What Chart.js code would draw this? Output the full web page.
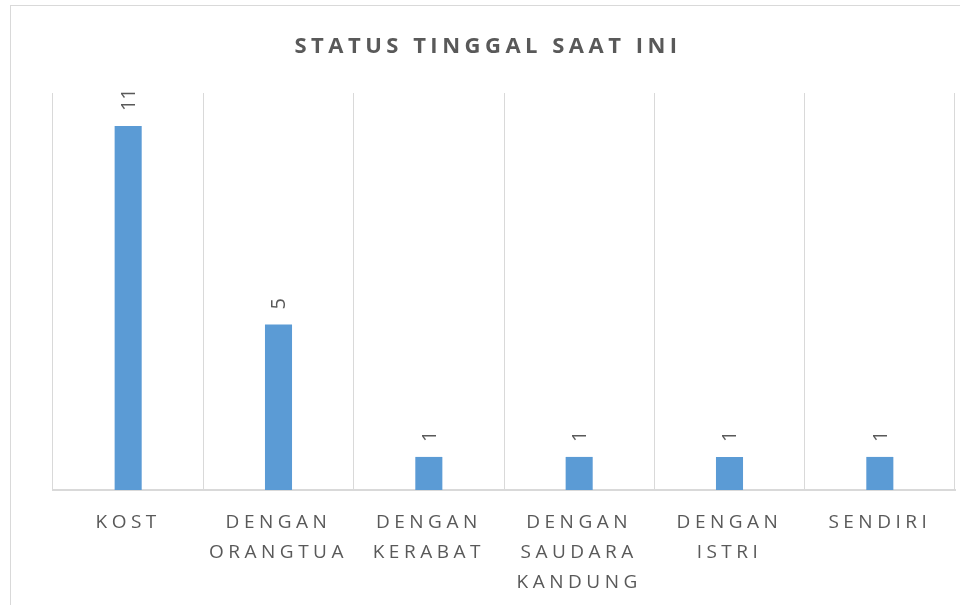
<!DOCTYPE html>
<html>
<head>
<meta charset="utf-8">
<script src="https://cdn.jsdelivr.net/npm/chart.js@4.4.1/dist/chart.umd.min.js"></script>
<style>
  html, body { margin: 0; padding: 0; background: #fff; overflow: hidden; }
  #wrap { position: relative; width: 960px; height: 605px; }
  #frame { position: absolute; left: 10px; top: 5px; width: 960px; height: 640px; border: 1px solid #d9d9d9; box-sizing: border-box; pointer-events: none; }
  canvas { position: absolute; left: 0; top: 0; }
</style>
</head>
<body>
<div id="wrap">
  <canvas id="myChart" width="960" height="605"></canvas>
  <div id="frame"></div>
</div>
<script>
// data
var categories = [
  "KOST",
  ["DENGAN", "ORANGTUA"],
  ["DENGAN", "KERABAT"],
  ["DENGAN", "SAUDARA", "KANDUNG"],
  ["DENGAN", "ISTRI"],
  "SENDIRI"
];
var counts = [11, 5, 1, 1, 1, 1];
var chartTitle = "STATUS TINGGAL SAAT INI";

var textColor = "#595959";
var gridColor = "#d9d9d9";
var barColor = "#5B9BD5";
var fontFamily = "'Open Sans', 'Liberation Sans', sans-serif";

// excel-ish spaced caps
var spacing = {
  id: "spacing",
  beforeDraw: function (chart) {
    chart.ctx.letterSpacing = "4.5px";
  }
};

// rotated value labels above the bars
var valueLabels = {
  id: "valueLabels",
  afterDatasetsDraw: function (chart) {
    var ctx = chart.ctx;
    var meta = chart.getDatasetMeta(0);
    ctx.save();
    ctx.letterSpacing = "0px";
    ctx.fillStyle = textColor;
    ctx.font = "20px " + fontFamily;
    ctx.textAlign = "left";
    ctx.textBaseline = "middle";
    meta.data.forEach(function (bar, i) {
      ctx.save();
      ctx.translate(bar.x + 1, bar.y - 15);
      ctx.rotate(-Math.PI / 2);
      ctx.fillText(String(counts[i]), 0, 0);
      ctx.restore();
    });
    ctx.restore();
  }
};

var ctx = document.getElementById("myChart").getContext("2d");
var myChart = new Chart(ctx, {
  type: "bar",
  data: {
    labels: categories,
    datasets: [
      {
        data: counts,
        backgroundColor: barColor,
        borderWidth: 0,
        barPercentage: 0.18,
        categoryPercentage: 1
      }
    ]
  },
  options: {
    responsive: false,
    animation: false,
    layout: {
      padding: { left: 21, right: 5, top: 0, bottom: 0 }
    },
    plugins: {
      legend: { display: false },
      tooltip: { enabled: false },
      title: {
        display: true,
        text: chartTitle,
        color: textColor,
        font: { family: fontFamily, size: 22, weight: "bold", lineHeight: 1.2 },
        padding: { top: 34, bottom: 32.6 }
      }
    },
    scales: {
      y: {
        display: true,
        min: 0,
        max: 12,
        grid: { display: false },
        border: { display: false },
        ticks: { display: false },
        afterFit: function (scale) {
          scale.width = 32;
        }
      },
      x: {
        offset: true,
        grid: {
          display: true,
          offset: true,
          color: gridColor,
          lineWidth: 1,
          drawTicks: false
        },
        border: { display: true, color: gridColor, width: 2 },
        ticks: {
          color: textColor,
          autoSkip: false,
          maxRotation: 0,
          minRotation: 0,
          padding: 18,
          font: { family: fontFamily, size: 19, lineHeight: 1.58 }
        },
        afterFit: function (scale) {
          scale.height = 115;
        }
      }
    }
  },
  plugins: [spacing, valueLabels]
});
</script>
</body>
</html>
